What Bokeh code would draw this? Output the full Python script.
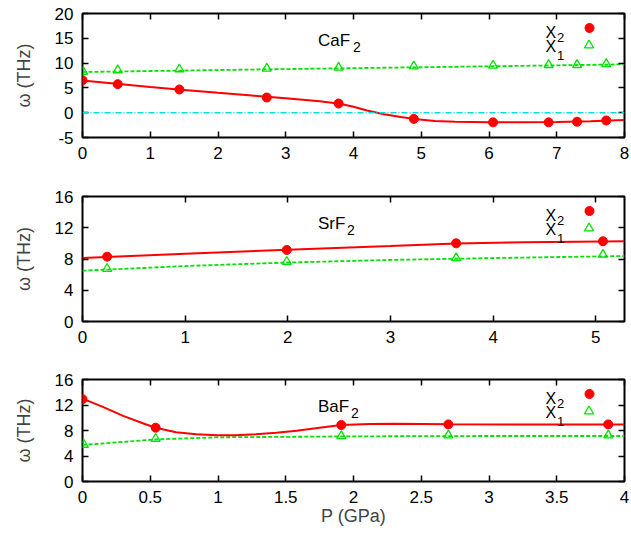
from bokeh.plotting import figure
from bokeh.layouts import column
from bokeh.models import FixedTicker, LinearAxis, CustomJSTickFormatter, Label, Range1d, Span
from bokeh.embed import file_html
from bokeh.resources import INLINE

# ---------------- data ----------------
# CaF2
caf2_x2_p = [0.0, 0.52, 1.43, 2.72, 3.78, 4.89, 6.06, 6.88, 7.30, 7.73]
caf2_x2_w = [6.55, 5.75, 4.68, 3.06, 1.85, -1.25, -1.95, -1.95, -1.82, -1.57]
caf2_x1_p = [0.01, 0.52, 1.43, 2.72, 3.78, 4.89, 6.06, 6.88, 7.30, 7.73]
caf2_x1_w = [8.24, 8.58, 8.78, 8.92, 9.11, 9.37, 9.52, 9.64, 9.64, 9.84]
caf2_x2_fit_p = [0, 0.5, 1, 1.5, 2, 2.5, 3, 3.5, 3.8, 4.0, 4.2, 4.45, 4.7, 4.9, 5.2, 5.5, 6.0, 6.5, 7.0, 7.5, 8.0]
caf2_x2_fit_w = [6.5, 5.85, 5.2, 4.6, 4.0, 3.45, 2.9, 2.3, 1.8, 1.2, 0.45, -0.3, -0.85, -1.25, -1.65, -1.82, -1.92, -1.95, -1.9, -1.7, -1.45]
caf2_x1_fit_p = [0, 2, 4, 6, 8]
caf2_x1_fit_w = [8.2, 8.6, 8.98, 9.35, 9.75]

# SrF2
srf2_x2_p = [0.24, 1.99, 3.64, 5.07]
srf2_x2_w = [8.30, 9.16, 10.01, 10.27]
srf2_x1_p = [0.24, 1.99, 3.64, 5.07]
srf2_x1_w = [6.76, 7.66, 8.13, 8.56]
srf2_x2_fit_p = [0, 1, 2, 3, 3.64, 4.3, 5.07, 5.28]
srf2_x2_fit_w = [8.12, 8.68, 9.17, 9.65, 9.98, 10.15, 10.25, 10.27]
srf2_x1_fit_p = [0, 1, 2, 3, 4, 5.28]
srf2_x1_fit_w = [6.5, 7.1, 7.55, 7.88, 8.12, 8.38]

# BaF2
baf2_x2_p = [0.0, 0.54, 1.91, 2.70, 3.88]
baf2_x2_w = [12.92, 8.44, 8.86, 8.96, 8.96]
baf2_x1_p = [0.01, 0.54, 1.91, 2.70, 3.88]
baf2_x1_w = [5.78, 6.72, 7.14, 7.24, 7.24]
baf2_x2_fit_p = [0, 0.15, 0.3, 0.45, 0.54, 0.69, 0.84, 0.99, 1.13, 1.28, 1.43, 1.58, 1.72, 1.91, 2.12, 2.3, 2.7, 3.2, 3.88, 4.0]
baf2_x2_fit_w = [13.0, 11.7, 10.3, 9.1, 8.44, 7.72, 7.4, 7.25, 7.25, 7.4, 7.66, 7.97, 8.34, 8.86, 9.02, 9.05, 8.98, 8.95, 8.96, 8.96]
baf2_x1_fit_p = [0, 0.54, 1, 2, 3, 4]
baf2_x1_fit_w = [5.73, 6.6, 6.93, 7.08, 7.14, 7.14]

caf2_xticks = [0, 1, 2, 3, 4, 5, 6, 7, 8]
caf2_yticks = [-5, 0, 5, 10, 15, 20]
srf2_xticks = [0, 1, 2, 3, 4, 5]
srf2_yticks = [0, 4, 8, 12, 16]
baf2_xticks = [0, 0.5, 1, 1.5, 2, 2.5, 3, 3.5, 4]
baf2_yticks = [0, 4, 8, 12, 16]
zero_level = 0

FONT = "Liberation Sans"
RED = "#ff0000"
GREEN = "#00e000"
CYAN = "#00dede"
FW = 542


def fmt():
    return CustomJSTickFormatter(code="return tick.toString();")


def style_axis(ax, show_labels=True):
    ax.axis_line_color = None
    ax.major_tick_in = 6
    ax.major_tick_out = 0
    ax.major_tick_line_width = 1.5
    ax.major_tick_line_color = "black"
    ax.minor_tick_line_color = None
    if show_labels:
        ax.major_label_text_font = FONT
        ax.major_label_text_font_size = "17px"
        ax.major_label_text_color = "black"
        ax.major_label_standoff = 9
    else:
        ax.major_label_text_font_size = "1px"
        ax.major_label_text_color = None
        ax.major_label_standoff = 0


def panel(name, sub_x, xr, yr, xt, yt, fh, top, bottom,
          x2p, x2w, x1p, x1w, f2p, f2w, f1p, f1w, zero=None, xlabel=None):
    p = figure(frame_width=FW, frame_height=fh, output_backend="svg",
               toolbar_location=None, x_range=Range1d(*xr), y_range=Range1d(*yr),
               min_border_left=82, min_border_right=6,
               min_border_top=top, min_border_bottom=bottom,
               x_axis_type=None, y_axis_type=None)
    p.grid.visible = False
    p.outline_line_color = "black"
    p.outline_line_width = 2
    p.background_fill_color = "white"
    p.border_fill_color = "white"

    xticker = FixedTicker(ticks=xt)
    yticker = FixedTicker(ticks=yt)
    xb = LinearAxis(ticker=xticker, formatter=fmt())
    style_axis(xb)
    if xlabel:
        xb.axis_label = xlabel
        xb.axis_label_text_font = FONT
        xb.axis_label_text_font_size = "18px"
        xb.axis_label_text_font_style = "normal"
        xb.axis_label_standoff = 0
    p.add_layout(xb, "below")
    yl = LinearAxis(ticker=yticker, formatter=fmt(), axis_label="ω (THz)")
    style_axis(yl)
    yl.axis_label_text_font = FONT
    yl.axis_label_text_font_size = "18px"
    yl.axis_label_text_font_style = "normal"
    yl.axis_label_standoff = 18
    p.add_layout(yl, "left")
    xa = LinearAxis(ticker=xticker, formatter=fmt())
    style_axis(xa, False)
    p.add_layout(xa, "above")
    yr_ax = LinearAxis(ticker=yticker, formatter=fmt())
    style_axis(yr_ax, False)
    p.add_layout(yr_ax, "right")

    if zero is not None:
        p.add_layout(Span(location=zero, dimension="width", line_color=CYAN,
                          line_width=1.5, line_dash="6 2 1 2"))

    p.line(f1p, f1w, line_color=GREEN, line_width=1.8, line_dash="4 2")
    p.line(f2p, f2w, line_color=RED, line_width=2)
    p.scatter(x1p, x1w, marker="triangle", size=9, fill_color=None,
              line_color=GREEN, line_width=1.3)
    p.scatter(x2p, x2w, marker="circle", size=9, fill_color=RED, line_color=RED)

    x0, x1 = xr
    y0, y1 = yr

    def dx(off):
        return x0 + off * (x1 - x0) / FW

    def dy(off):
        return y1 - off * (y1 - y0) / fh

    def lab(offx, offy, text, size):
        p.add_layout(Label(x=dx(offx), y=dy(offy), text=text, text_font=FONT,
                           text_font_size=size, text_align="left",
                           text_baseline="alphabetic", text_color="black"))

    # panel title with subscript
    lab(235.5, 26.5, name, "17px")
    lab(sub_x, 33.5, "2", "14px")
    # key
    lab(463, 18.6, "X", "16px")
    lab(474.5, 24.4, "2", "13px")
    lab(463, 33.4, "X", "16px")
    lab(474.5, 41.7, "1", "13px")
    p.scatter([dx(507)], [dy(14.5)], marker="circle", size=9,
              fill_color=RED, line_color=RED)
    p.scatter([dx(506.5)], [dy(31.7)], marker="triangle", size=9,
              fill_color=None, line_color=GREEN, line_width=1.3)
    return p


p1 = panel("CaF", 270.5, (0, 8), (-5, 20), caf2_xticks, caf2_yticks, 124, 13, 44,
           caf2_x2_p, caf2_x2_w, caf2_x1_p, caf2_x1_w,
           caf2_x2_fit_p, caf2_x2_fit_w, caf2_x1_fit_p, caf2_x1_fit_w, zero=zero_level)
p2 = panel("SrF", 264.5, (0, 5.28), (0, 16), srf2_xticks, srf2_yticks, 125, 15, 43,
           srf2_x2_p, srf2_x2_w, srf2_x1_p, srf2_x1_w,
           srf2_x2_fit_p, srf2_x2_fit_w, srf2_x1_fit_p, srf2_x1_fit_w)
p3 = panel("BaF", 268.5, (0, 4), (0, 16), baf2_xticks, baf2_yticks, 102, 15, 46,
           baf2_x2_p, baf2_x2_w, baf2_x1_p, baf2_x1_w,
           baf2_x2_fit_p, baf2_x2_fit_w, baf2_x1_fit_p, baf2_x1_fit_w, xlabel="P (GPa)")

layout = column(p1, p2, p3, spacing=0)
open("out.html", "w").write(file_html(layout, INLINE))
